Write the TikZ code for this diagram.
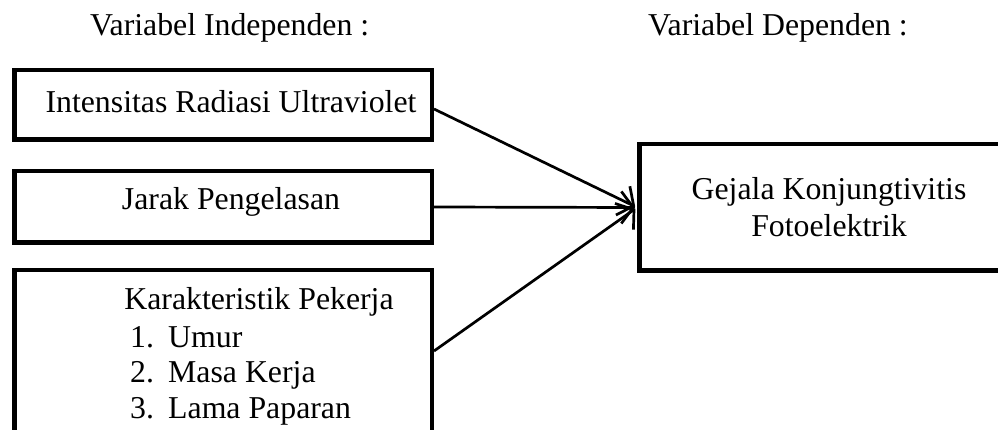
\documentclass[tikz,border=0pt]{standalone}
\usepackage{fontspec}
\setmainfont{Liberation Serif}
\usetikzlibrary{arrows.meta}
\begin{document}
\begin{tikzpicture}[x=1pt,y=-1pt,
  every node/.style={font=\fontsize{31.8}{36}\selectfont},
  box/.style={draw, line width=4.5pt, inner sep=0pt},
  openbox/.style={line width=4.5pt, inner sep=0pt, outer sep=2.25pt},
  lbl/.style={inner sep=0pt, anchor=base},
  arr/.style={line width=2.7pt, -{Straight Barb[length=12pt,width=32pt]}, shorten >=2pt}
]
\useasboundingbox (0,0) rectangle (998,430);
% titles
\node[lbl, anchor=base west] (ti) at (90,36) {Variabel Independen :};
\node[lbl, anchor=base west] (td) at (648,36) {Variabel Dependen :};
% boxes
\node[box, minimum width=417.5pt, minimum height=69.5pt] (b1) at (223,105) {};
\node[box, minimum width=417.5pt, minimum height=71.5pt] (b2) at (223,207) {};
\node[box, minimum width=417.5pt, minimum height=165pt] (b3) at (223,352.5) {};
\node[openbox, minimum width=362pt, minimum height=126.5pt] (dv) at (820.25,207.5) {};
\draw[line width=4.5pt, line join=miter]
  ([xshift=-2.25pt,yshift=-2.25pt]dv.north east) -- ([xshift=2.25pt,yshift=-2.25pt]dv.north west)
  -- ([xshift=2.25pt,yshift=2.25pt]dv.south west) -- ([xshift=-2.25pt,yshift=2.25pt]dv.south east);
% box texts
\node[lbl] (t1) at (231,113) {Intensitas Radiasi Ultraviolet};
\node[lbl] (t2) at (231,210) {Jarak Pengelasan};
\node[lbl] (t3) at (259,309) {Karakteristik Pekerja};
\node[lbl, anchor=base west] (n1) at (130,347) {1.};
\node[lbl, anchor=base west] (i1) at (168,347) {Umur};
\node[lbl, anchor=base west] (n2) at (130,382) {2.};
\node[lbl, anchor=base west] (i2) at (168,382) {Masa Kerja};
\node[lbl, anchor=base west] (n3) at (130,418) {3.};
\node[lbl, anchor=base west] (i3) at (168,418) {Lama Paparan};
\node[lbl] (g1) at (829,200) {Gejala Konjungtivitis};
\node[lbl] (g2) at (829,237) {Fotoelektrik};
% connectors
\draw[arr] ([yshift=-4pt]b1.east) -- (dv.west);
\draw[arr] (b2.east) -- (dv.west);
\draw[arr] ([yshift=1.5pt]b3.east) -- (dv.west);
\end{tikzpicture}
\end{document}
